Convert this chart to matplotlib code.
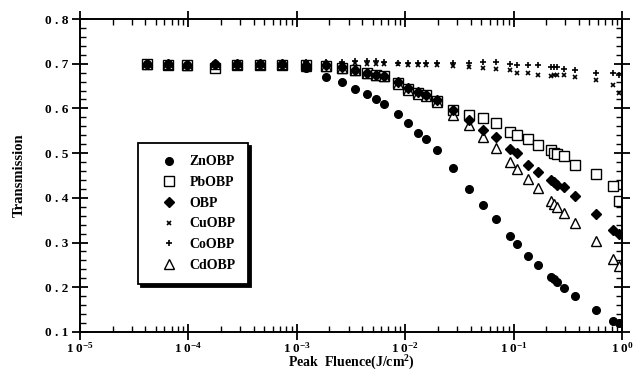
import math
import matplotlib
matplotlib.use("Agg")
import matplotlib.pyplot as plt
from matplotlib.ticker import FuncFormatter, LogLocator, NullFormatter, MultipleLocator

plt.rcParams['font.family'] = ['Liberation Serif', 'DejaVu Serif']
plt.rcParams['font.weight'] = 'bold'
plt.rcParams['mathtext.fontset'] = 'custom'
plt.rcParams['mathtext.rm'] = 'Liberation Serif:bold'
plt.rcParams['mathtext.it'] = 'Liberation Serif:bold'
plt.rcParams['mathtext.bf'] = 'Liberation Serif:bold'

# peak fluence (J/cm^2), shared measurement grid
fluence = [4.19e-5, 6.54e-5, 9.8e-5, 1.74e-4, 2.83e-4, 4.61e-4, 7.35e-4, 1.22e-3,
           1.87e-3, 2.63e-3, 3.46e-3, 4.46e-3, 5.40e-3, 6.40e-3, 8.61e-3, 1.07e-2,
           1.32e-2, 1.56e-2, 1.97e-2, 2.77e-2, 3.89e-2, 5.23e-2, 6.90e-2, 9.29e-2,
           0.108, 0.136, 0.168, 0.222, 0.236, 0.252, 0.292, 0.369, 0.576, 0.826, 0.938]

zn = [0.700, 0.700, 0.698, 0.700, 0.700, 0.700, 0.700, 0.690,
      0.670, 0.659, 0.644, 0.633, 0.621, 0.610, 0.588, 0.568,
      0.546, 0.532, 0.508, 0.467, 0.420, 0.385, 0.353, 0.315,
      0.297, 0.270, 0.250, 0.223, 0.218, 0.212, 0.198, 0.181, 0.149, 0.125, 0.120]

pb = [0.700, 0.698, 0.697, 0.690, 0.698, 0.698, 0.698, 0.697,
      0.695, 0.690, 0.685, 0.679, 0.675, 0.673, 0.657, 0.644,
      0.635, 0.630, 0.617, 0.597, 0.585, 0.579, 0.568, 0.547,
      0.541, 0.532, 0.518, 0.507, 0.500, 0.498, 0.494, 0.474, 0.453, 0.427, 0.393]

obp = [0.700, 0.700, 0.697, 0.700, 0.700, 0.700, 0.700, 0.698,
       0.698, 0.692, 0.687, 0.680, 0.675, 0.673, 0.660, 0.646,
       0.637, 0.631, 0.619, 0.597, 0.574, 0.552, 0.536, 0.509,
       0.500, 0.474, 0.458, 0.440, 0.436, 0.429, 0.424, 0.404, 0.364, 0.328, 0.319]

cu = [0.700, 0.700, 0.698, 0.700, 0.700, 0.700, 0.700, 0.702,
      0.702, 0.700, 0.702, 0.700, 0.700, 0.700, 0.700, 0.697,
      0.697, 0.697, 0.697, 0.695, 0.693, 0.691, 0.688, 0.686,
      0.679, 0.679, 0.675, 0.673, 0.675, 0.675, 0.675, 0.670, 0.664, 0.653, 0.635]

co = [0.700, 0.700, 0.700, 0.700, 0.700, 0.700, 0.700, 0.703,
      0.703, 0.704, 0.706, 0.706, 0.706, 0.704, 0.702, 0.702,
      0.702, 0.702, 0.702, 0.701, 0.702, 0.704, 0.704, 0.700,
      0.697, 0.697, 0.697, 0.693, 0.693, 0.693, 0.688, 0.686, 0.679, 0.679, 0.675]

cd = [0.700, 0.700, 0.697, 0.700, 0.700, 0.700, 0.700, 0.695,
      0.695, 0.690, 0.685, 0.679, 0.675, 0.673, 0.655, 0.642,
      0.633, 0.628, 0.614, 0.585, 0.563, 0.536, 0.512, 0.480,
      0.465, 0.442, 0.422, 0.393, 0.386, 0.380, 0.366, 0.344, 0.304, 0.263, 0.248]

fig = plt.figure(figsize=(6.37, 3.73), dpi=100)
ax = fig.add_axes([0.1256, 0.110, 0.851, 0.839])

ax.plot(fluence, pb, ls='none', marker='s', ms=6.5, mfc='white', mec='black', mew=1.0, label='PbOBP')
ax.plot(fluence, cd, ls='none', marker='^', ms=6.5, mfc='white', mec='black', mew=1.0, label='CdOBP')
ax.plot(fluence, obp, ls='none', marker='D', ms=4.8, color='black', label='OBP')
ax.plot(fluence, zn, ls='none', marker='o', ms=5.5, color='black', label='ZnOBP')
ax.plot(fluence, cu, ls='none', marker='x', ms=3.5, mew=1.2, color='black', label='CuOBP')
ax.plot(fluence, co, ls='none', marker='+', ms=4.5, mew=1.2, color='black', label='CoOBP')

ax.set_xscale('log')
ax.set_xlim(1e-5, 1)
ax.set_ylim(0.1, 0.8)

ax.xaxis.set_major_locator(LogLocator(base=10, numticks=10))
ax.xaxis.set_minor_locator(LogLocator(base=10, subs=range(2, 10), numticks=20))
ax.xaxis.set_minor_formatter(NullFormatter())
ax.xaxis.set_major_formatter(FuncFormatter(lambda v, p: "1 0$^{%d}$" % round(math.log10(v))))
ax.yaxis.set_major_locator(MultipleLocator(0.1))
ax.yaxis.set_minor_locator(MultipleLocator(0.02))
ax.yaxis.set_major_formatter(FuncFormatter(lambda v, p: ("%.1f" % v).replace('.', ' . ')))

ax.tick_params(which='major', direction='inout', length=11, width=1.3,
               top=True, right=True, labelsize=9.5)
ax.tick_params(axis='x', which='major', pad=1)
ax.tick_params(axis='y', which='major', pad=3)
ax.tick_params(which='minor', direction='in', length=4, width=1.0, top=True, right=True)
for s in ax.spines.values():
    s.set_linewidth(1.4)

ax.set_xlabel('Peak  Fluence(J/cm$^2$)', fontsize=10, fontweight='bold', labelpad=-1)
ax.set_ylabel('Transmission', fontsize=10.5, fontweight='bold', labelpad=14)

h, l = ax.get_legend_handles_labels()
order = ['ZnOBP', 'PbOBP', 'OBP', 'CuOBP', 'CoOBP', 'CdOBP']
hs = [h[l.index(n)] for n in order]
leg = ax.legend(hs, order, loc='upper left', bbox_to_anchor=(0.107, 0.604),
                labelspacing=0.55, handlelength=2.6, handletextpad=0.2,
                borderpad=0.9, borderaxespad=0, fancybox=False, frameon=True,
                shadow={'color': 'black', 'alpha': 1.0}, prop={'weight': 'bold', 'size': 10})
leg.get_frame().set_edgecolor('black')
leg.get_frame().set_linewidth(1.3)

fig.savefig('out.png', dpi=100)
